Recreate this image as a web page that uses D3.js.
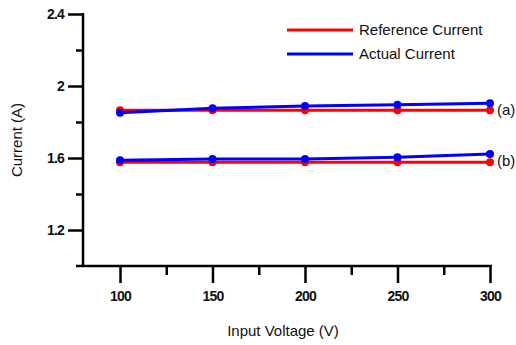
<!DOCTYPE html>
<html>
<head>
<meta charset="utf-8">
<script src="https://cdn.jsdelivr.net/npm/d3@7"></script>
<style>
  body { margin: 0; background: #fff; }
  svg text { font-family: "Liberation Sans", Arial, sans-serif; }
</style>
</head>
<body>
<svg id="chart" width="516" height="345"></svg>
<script>
const voltages = [100, 150, 200, 250, 300];
const refA = [1.865, 1.865, 1.865, 1.865, 1.865];
const actA = [1.852, 1.876, 1.889, 1.896, 1.904];
const refB = [1.576, 1.576, 1.576, 1.576, 1.576];
const actB = [1.587, 1.594, 1.594, 1.604, 1.622];
const yTicks = [1.2, 1.6, 2, 2.4];
const yMinor = [1.4, 1.8, 2.2];
const xTicks = [100, 150, 200, 250, 300];
const xMinor = [125, 175, 225, 275];

const svg = d3.select('#chart');
const x = d3.scaleLinear().domain([80, 300]).range([83, 490]);
const y = d3.scaleLinear().domain([1.0, 2.4]).range([266, 14]);

// axes
svg.append('line').attr('x1', 76).attr('x2', 492).attr('y1', y(1.0)).attr('y2', y(1.0))
  .attr('stroke', '#000').attr('stroke-width', 2.5);
svg.append('line').attr('x1', x(80)).attr('x2', x(80)).attr('y1', y(2.4) - 1).attr('y2', y(1.0) + 1)
  .attr('stroke', '#000').attr('stroke-width', 2.5);

const yAxis = svg.append('g').attr('transform', `translate(${x(80)},0)`)
  .call(d3.axisLeft(y).tickValues(yTicks).tickSize(15).tickPadding(4).tickFormat(d3.format('')));
yAxis.select('.domain').remove();
yAxis.selectAll('.tick line').attr('stroke-width', 2.5);
yAxis.selectAll('.tick text').attr('font-size', 14).attr('font-weight', 'bold').attr('fill', '#111')
  .attr('letter-spacing', -0.8);

const yAxisMinor = svg.append('g').attr('transform', `translate(${x(80)},0)`)
  .call(d3.axisLeft(y).tickValues(yMinor).tickSize(7).tickFormat(''));
yAxisMinor.select('.domain').remove();
yAxisMinor.selectAll('.tick line').attr('stroke-width', 2.5);

const xAxis = svg.append('g').attr('transform', `translate(0,${y(1.0)})`)
  .call(d3.axisBottom(x).tickValues(xTicks).tickSize(17).tickPadding(8));
xAxis.select('.domain').remove();
xAxis.selectAll('.tick line').attr('stroke-width', 2.5);
xAxis.selectAll('.tick text').attr('font-size', 14).attr('font-weight', 'bold').attr('fill', '#111')
  .attr('letter-spacing', -0.8);

const xAxisMinor = svg.append('g').attr('transform', `translate(0,${y(1.0)})`)
  .call(d3.axisBottom(x).tickValues(xMinor).tickSize(9).tickFormat(''));
xAxisMinor.select('.domain').remove();
xAxisMinor.selectAll('.tick line').attr('stroke-width', 2.5);

// titles
svg.append('text').attr('x', 283).attr('y', 336).attr('text-anchor', 'middle')
  .attr('font-size', 15).attr('fill', '#111').text('Input Voltage (V)');
svg.append('text').attr('transform', 'translate(22,140) rotate(-90)').attr('text-anchor', 'middle')
  .attr('font-size', 15).attr('fill', '#111').text('Current (A)');

// series
const line = d3.line().x((d, i) => x(voltages[i])).y(d => y(d));
const series = [
  { vals: refA, color: '#ff0000' },
  { vals: refB, color: '#ff0000' },
  { vals: actA, color: '#0000ff' },
  { vals: actB, color: '#0000ff' }
];
series.forEach(s => {
  svg.append('path').datum(s.vals).attr('d', line).attr('fill', 'none')
    .attr('stroke', s.color).attr('stroke-width', 3);
  svg.selectAll(null).data(s.vals).enter().append('circle')
    .attr('cx', (d, i) => x(voltages[i])).attr('cy', d => y(d)).attr('r', 4)
    .attr('fill', s.color);
});

svg.append('text').attr('x', 497).attr('y', y(1.865) + 5).attr('font-size', 15).attr('fill', '#111').text('(a)');
svg.append('text').attr('x', 497).attr('y', y(1.576) + 4).attr('font-size', 15).attr('fill', '#111').text('(b)');

// legend
const legend = [
  { label: 'Reference Current', color: '#ff0000', y: 30 },
  { label: 'Actual Current', color: '#0000ff', y: 54 }
];
legend.forEach(l => {
  svg.append('line').attr('x1', 287).attr('x2', 353).attr('y1', l.y).attr('y2', l.y)
    .attr('stroke', l.color).attr('stroke-width', 3);
  svg.append('text').attr('x', 359).attr('y', l.y + 5).attr('font-size', 15).attr('fill', '#111').text(l.label);
});
</script>
</body>
</html>
